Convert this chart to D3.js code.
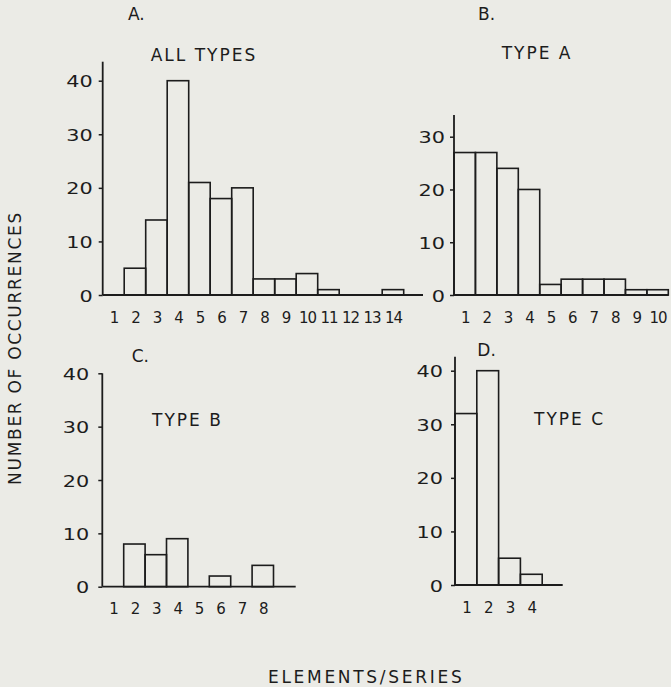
<!DOCTYPE html>
<html>
<head>
    <meta charset="utf-8">
    <script src="https://cdn.jsdelivr.net/npm/d3@7"></script>
    <style>
        body { margin: 0; background: #ebebe6; }
        text { font-family: "DejaVu Sans", sans-serif; fill: #1c1c1c; }
    </style>
</head>
<body>
<svg id="chart"></svg>
<script>
    // elements per series (categories) for each panel
    var elementsAll = [1, 2, 3, 4, 5, 6, 7, 8, 9, 10, 11, 12, 13, 14];
    var elementsA = [1, 2, 3, 4, 5, 6, 7, 8, 9, 10];
    var elementsB = [1, 2, 3, 4, 5, 6, 7, 8];
    var elementsC = [1, 2, 3, 4];

    // number of occurrences
    var allTypes = [0, 5, 14, 40, 21, 18, 20, 3, 3, 4, 1, 0, 0, 1];
    var typeA = [27, 27, 24, 20, 2, 3, 3, 3, 1, 1];
    var typeB = [0, 8, 6, 9, 0, 2, 0, 4];
    var typeC = [32, 40, 5, 2];

    // y tick labels
    var ticks40 = [0, 10, 20, 30, 40];
    var ticks30 = [0, 10, 20, 30];

    var width = 671;
    var height = 687;

    var svg = d3.select('#chart')
        .attr('width', width)
        .attr('height', height);

    svg.append('rect')
        .attr('width', width)
        .attr('height', height)
        .attr('fill', '#ebebe6');

    var panels = [
        { letter: 'A.', name: 'ALL TYPES', cats: elementsAll, values: allTypes, ticks: ticks40,
          x0: 102.7, bw: 21.5, zeroY: 295, topY: 80.7, axisTop: 61.7, axisRight: 423, gap: 10,
          letterX: 128, letterY: 20, nameX: 150.7, nameY: 61 },
        { letter: 'B.', name: 'TYPE A', cats: elementsA, values: typeA, ticks: ticks30,
          x0: 454, bw: 21.43, zeroY: 295, topY: 136.7, axisTop: 115, axisRight: 668.5, gap: 9,
          letterX: 478, letterY: 20, nameX: 501.7, nameY: 59 },
        { letter: 'C.', name: 'TYPE B', cats: elementsB, values: typeB, ticks: ticks40,
          x0: 102.3, bw: 21.4, zeroY: 586.7, topY: 373.3, axisTop: 373.3, axisRight: 295.7, gap: 13,
          letterX: 131.7, letterY: 362, nameX: 152, nameY: 425.7 },
        { letter: 'D.', name: 'TYPE C', cats: elementsC, values: typeC, ticks: ticks40,
          x0: 455, bw: 21.8, zeroY: 585, topY: 370.7, axisTop: 356.7, axisRight: 562.7, gap: 12,
          letterX: 477.3, letterY: 356, nameX: 534, nameY: 425 }
    ];

    var ink = '#1c1c1c';

    panels.forEach(function(p) {
        var n = p.cats.length;
        var xScale = d3.scaleLinear()
            .domain([0.5, n + 0.5])
            .range([p.x0, p.x0 + n * p.bw]);
        var yScale = d3.scaleLinear()
            .domain([0, d3.max(p.ticks)])
            .range([p.zeroY, p.topY]);

        var g = svg.append('g');

        // bars
        g.selectAll('rect')
            .data(p.cats.map(function(c, i) { return { cat: c, value: p.values[i] }; })
                .filter(function(d) { return d.value > 0; }))
            .enter()
            .append('rect')
            .attr('x', function(d) { return xScale(d.cat - 0.5); })
            .attr('y', function(d) { return yScale(d.value); })
            .attr('width', function(d) { return xScale(d.cat + 0.5) - xScale(d.cat - 0.5); })
            .attr('height', function(d) { return yScale(0) - yScale(d.value); })
            .attr('fill', 'none')
            .attr('stroke', ink)
            .attr('stroke-width', 1.6);

        // y axis
        var yAxis = g.append('g')
            .attr('transform', 'translate(' + p.x0 + ',0)')
            .call(d3.axisLeft(yScale).tickValues(p.ticks).tickFormat(d3.format('d')).tickSize(4).tickPadding(0));
        yAxis.select('.domain').remove();
        yAxis.selectAll('line').attr('stroke', ink).attr('stroke-width', 1.5);
        yAxis.selectAll('text')
            .attr('x', 0)
            .attr('fill', ink)
            .attr('transform', 'translate(' + (-p.gap) + ',1) scale(1.3,1)')
            .style('font-size', '16px');
        g.append('line')
            .attr('x1', p.x0).attr('x2', p.x0)
            .attr('y1', p.axisTop).attr('y2', p.zeroY)
            .attr('stroke', ink).attr('stroke-width', 1.8);

        // x axis
        var xAxis = g.append('g')
            .attr('transform', 'translate(0,' + p.zeroY + ')')
            .call(d3.axisBottom(xScale).tickValues(p.cats).tickFormat(d3.format('d')).tickSize(0).tickPadding(17));
        xAxis.select('.domain').remove();
        xAxis.selectAll('text')
            .attr('fill', ink)
            .style('font-size', '15px')
            .style('letter-spacing', '-1px');
        g.append('line')
            .attr('x1', p.x0).attr('x2', p.axisRight)
            .attr('y1', p.zeroY).attr('y2', p.zeroY)
            .attr('stroke', ink).attr('stroke-width', 1.8);

        // panel letter and name
        g.append('text')
            .attr('x', p.letterX).attr('y', p.letterY)
            .style('font-size', '17px')
            .text(p.letter);
        g.append('text')
            .attr('x', p.nameX).attr('y', p.nameY)
            .style('font-size', '17px')
            .style('letter-spacing', '2px')
            .text(p.name);
    });

    svg.append('text')
        .attr('transform', 'translate(21,348) rotate(-90)')
        .attr('text-anchor', 'middle')
        .style('font-size', '17px')
        .style('letter-spacing', '1.7px')
        .text('NUMBER OF OCCURRENCES');

    svg.append('text')
        .attr('x', 268)
        .attr('y', 683)
        .style('font-size', '17px')
        .style('letter-spacing', '2.7px')
        .text('ELEMENTS/SERIES');
</script>
</body>
</html>
